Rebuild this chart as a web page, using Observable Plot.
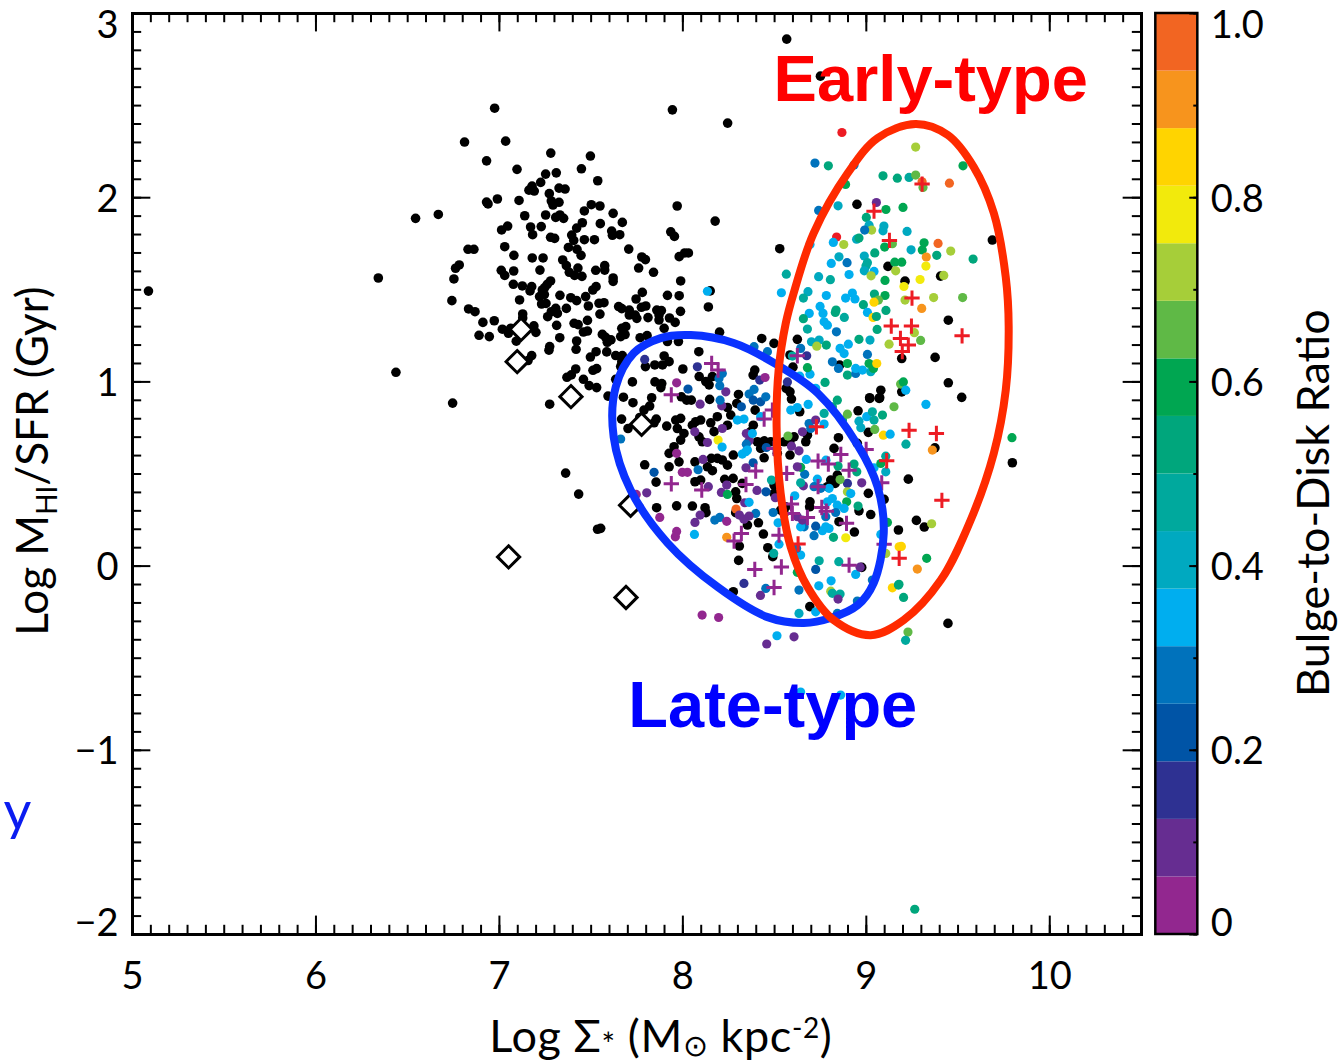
<!DOCTYPE html>
<html><head><meta charset="utf-8">
<script src="https://cdn.jsdelivr.net/npm/d3@7"></script>
<script src="https://cdn.jsdelivr.net/npm/@observablehq/plot@0.6"></script>
<style>html,body{margin:0;padding:0;background:#fff}svg{display:block}</style>
</head><body><div id="chart"></div>
<script>
const blackPoints = [[5.087,1.493],[6.34,1.564],[6.436,1.052],[6.745,.885],[8.566,2.861],[8.75,2.66],[8.244,2.405],
[6.974,2.486],[7.943,2.477],[6.81,2.302],[7.034,2.307],[6.93,2.2],[7.28,2.242],[7.496,2.226],[7.096,2.154],[7.447,2.157],[7.252,2.128],[7.31,2.135],[7.225,2.083],[7.536,2.092],[7.178,2.063],[7.161,2.041],[7.19,2.036],[7.325,2.052],[7.358,2.047],[7.272,2.022],[6.543,1.888],[6.667,1.909],[6.93,1.976],[6.938,1.966],[6.989,1.993],[7.107,1.985],[7.283,1.982],[7.292,1.96],[7.325,1.975],[7.969,1.955],[7.501,1.962],[7.548,1.955],[7.463,1.928],[7.138,1.902],[7.252,1.906],[7.307,1.893],[7.33,1.906],[7.35,1.888],[7.62,1.915],[7.67,1.866],[8.176,1.873],[7.55,1.859],[7.452,1.864],[7.421,1.835],[7.045,1.846],[7.012,1.825],[7.17,1.841],[7.228,1.843],[7.181,1.799],[7.612,1.819],[7.616,1.796],[7.656,1.799],[7.934,1.815],[7.954,1.79],[7.394,1.797],[7.405,1.768],[7.279,1.785],[7.301,1.779],[7.463,1.772],[7.518,1.772],[7.029,1.734],[7.376,1.73],[7.423,1.72],[7.445,1.687],[6.829,1.72],[6.861,1.72],[7.705,1.721],[7.079,1.687],[7.179,1.673],[7.238,1.673],[7.345,1.662],[7.365,1.631],[7.381,1.595],[7.428,1.618],[7.41,1.578],[7.45,1.573],[7.776,1.678],[7.796,1.664],[8.03,1.7],[8.01,1.7],[7.98,1.68],[6.781,1.635],[6.761,1.617],[6.752,1.559],[7.01,1.606],[7.029,1.578],[7.078,1.602],[7.221,1.607],[7.525,1.606],[7.574,1.631],[7.574,1.607],[7.759,1.618],[7.84,1.595],[7.62,1.564],[7.62,1.546],[7.988,1.548],[7.076,1.53],[7.125,1.521],[7.176,1.517],[7.279,1.548],[7.261,1.53],[7.247,1.512],[7.234,1.499],[7.167,1.494],[7.527,1.517],[7.509,1.499],[8.149,1.494],[7.779,1.486],[7.745,1.45],[7.916,1.47],[7.98,1.468],[6.741,1.441],[7.11,1.445],[7.33,1.47],[7.389,1.457],[7.421,1.441],[7.47,1.463],[7.219,1.463],[7.245,1.474],[7.23,1.423],[7.254,1.426],[7.543,1.427],[7.57,1.43],[7.485,1.412],[7.65,1.409],[7.667,1.398],[7.708,1.39],[7.708,1.363],[7.74,1.363],[7.749,1.345],[7.774,1.405],[7.798,1.412],[7.858,1.39],[7.883,1.387],[7.87,1.363],[7.87,1.336],[7.987,1.383],[8.139,1.407],[6.832,1.396],[6.867,1.381],[7.307,1.399],[7.283,1.381],[7.316,1.372],[7.263,1.354],[7.365,1.399],[7.548,1.368],[7.127,1.369],[7.127,1.347],[7.81,1.349],[7.927,1.347],[7.958,1.323],[6.91,1.323],[6.972,1.332],[7.48,1.334],[7.312,1.307],[7.407,1.318],[7.429,1.311],[7.898,1.291],[7.689,1.3],[7.667,1.291],[7.188,1.304],[7.199,1.269],[7.016,1.286],[7.061,1.291],[7.049,1.264],[7.48,1.276],[7.458,1.271],[7.561,1.258],[7.579,1.242],[7.608,1.228],[7.588,1.215],[7.685,1.257],[7.661,1.246],[6.889,1.253],[6.945,1.246],[7.329,1.24],[7.767,1.24],[7.805,1.251],[8.2,1.27],[7.092,1.221],[7.421,1.222],[7.418,1.177],[7.916,1.219],[7.976,1.219],[7.274,1.192],[7.27,1.172],[7.527,1.164],[7.496,1.135],[7.585,1.163],[7.176,1.143],[7.156,1.116],[8.087,1.164],[7.634,1.143],[7.67,1.143],[7.667,1.11],[7.661,1.083],[7.898,1.141],[7.925,1.11],[7.889,1.092],[7.847,1.092],[7.796,1.083],[7.416,1.07],[7.392,1.038],[7.368,1.025],[7.53,1.072],[7.51,1.063],[8,1.07],[8.089,1.029],[8.125,1.002],[8.143,.984],[8.161,1.029],[7.458,1.014],[7.489,.98],[7.53,.969],[7.634,1.014],[7.725,1],[7.848,1],[7.885,.991],[7.88,.969],
[7.274,.879],[7.361,.505],[7.432,.391],[7.535,.2],
[7.592,.923],[7.676,.917],[7.728,.887],[7.83,.914],[7.819,.869],[7.788,.847],[7.765,.807],[7.666,.798],[7.701,.747],[7.855,.798],[7.843,.778],[7.912,.76],[7.992,.919],[8.021,.901],[8.046,.901],[8.146,.905],[8.303,.932],[8.294,.883],[8.243,.861],[8.261,.82],[8.394,.847],[8.392,1.064],[8.383,1.037],[8.43,1.236],[8.497,1.209],[8.584,.946],[8.592,.907],[8.563,.965],[8.637,.838],[8.6,1.08],[8.188,.811],[8.152,.778],[8.097,.793],[8.052,.765],[8.07,.784],[7.988,.802],[7.961,.793],[7.97,.747],[8.243,.765],[8.17,.73],[8.006,.72],[7.988,.684],[7.952,.648],[7.925,.612],[8.088,.702],[8.106,.675],[8.384,.765],[8.37,.73],[8.406,.675],[8.443,.68],[8.424,.639],[8.479,.675],[8.552,.675],[8.583,.675],[8.606,.702],[8.67,.675],[8.679,.711],[8.443,.588],[8.275,.603],[8.584,.603],[8.515,.612],[8.155,.585],[8.188,.585],[8.215,.576],[8.243,.548],[8.066,.566],[7.979,.566],[7.925,.539],[7.792,.55],[8.134,.539],[8.161,.518],[7.854,.456],[8.066,.458],[8.097,.467],[8.228,.471],[8.274,.476],[8.288,.403],[8.294,.367],[8.324,.449],[8.497,.44],[8.497,.395],[8.693,.349],[8.691,.322],[8.56,.322],[8.533,.304],[8.552,.286],[7.857,.317],[7.966,.327],[8.052,.326],[8.121,.317],[8.126,.29],[8.288,.29],[8.352,.223],[8.412,.235],[8.439,.174],[8.463,.1],[8.49,.051],[8.308,.109],[8.304,.031],[8.275,-.139],[8.935,.185],[8.851,.241],[9.024,.28],[9.097,.362],[8.96,.3],[9.011,.395],[8.842,.494],[8.806,.467],[8.788,.431],[8.83,.449],[8.824,.639],[8.848,.697],[8.955,.843],[9.019,.91],[9.07,.91],[9.079,.955],[9.011,.726],[8.951,.666],[9.175,.196],[8.975,-.007],[8.692,-.22],[7.552,.205],
[8.528,1.723],[8.949,1.964],[9.118,1.627],[9.211,1.547],[9.405,1.574],[9.687,1.77],[9.447,1.335],[9.375,1.133],[9.193,1.127],[9.447,.995],[8.624,1.231],[8.584,1.146],[8.855,1.091],
[9.52,.916],[9.018,.914],[9.073,.914],[9.193,.946],[9.374,.642],[9.796,.561],[9.229,.472],[9.273,.248],[9.316,.212],[9.445,-.311]];

const colorPoints = [[8.134,1.492,.34],
[7.792,1.122,.16],[8.079,1.082,.16],[7.966,.995,.03],[8.028,.961,.2],[8.094,.879,.09],[8.065,.729,.09],[8.134,.671,.09],[7.966,.612,.03],[8.11,.579,.09],[7.997,.509,.05],[8.025,.509,.05],[8.083,.523,.28],[7.843,.509,.22],[7.803,.398,.09],[7.746,.389,.03],[7.874,.264,.03],[8.094,.277,.09],[8.066,.237,.09],[7.966,.188,.03],[7.959,.159,.03],[8.063,.172,.37],[8.139,.431,.09],[8.239,.44,.07],[8.21,.4,.09],[8.243,.389,.59],[8.174,.25,.28],[8.201,.264,.28],[8.239,.243,.05],[8.29,.31,.95],[8.239,.156,.92],[7.661,.69,.28],[8.192,.684,.75],[8.214,.646,.34],[8.215,.747,.09],[8.234,.946,.09],[8.212,.87,.09],[8.203,.901,.28],[8.201,.979,.28],[8.197,1.019,.28],[8.215,1.046,.3],[8.346,.72,.09],[8.361,.68,.09],[8.379,.72,.34],[8.346,.662,.3],[8.297,.793,.32],[8.333,.798,.32],[8.319,.865,.22],[8.361,.934,.25],[8.384,.901,.22],[8.424,.892,.2],[8.452,.919,.28],[8.388,.959,.28],[8.419,1.01,.16],[8.448,1.024,.03],[8.461,1.164,.28],[8.388,1.191,.3],[8.424,.811,.34],[8.343,.621,.32],[8.324,.608,.34],[8.352,.63,.32],[8.455,.644,.22],[8.383,.561,.22],[8.344,.534,.09],[8.404,.411,.09],[8.453,.403,.22],[8.483,.467,.44],[8.504,.371,.09],[8.337,.344,.09],[8.361,.346,.37],[8.397,.286,.3],[8.492,.291,.25],[8.308,.277,.12],[8.361,.272,.09],[8.333,.255,.09],[8.519,.235,.36],[8.524,.119,.36],[8.495,.069,.47],[8.642,.06,.36],[8.62,.096,.28],[8.333,-.094,.16],[8.452,-.121,.28],[8.423,-.159,.07],[8.105,-.266,.05],[8.195,-.279,.05],[8.457,-.423,.09],[8.513,-.378,.36],[8.606,-.384,.12],[8.633,-.257,.41],[8.633,-.13,.25],[8.724,-.018,.22],[8.741,-.107,.34],[8.808,-.08,.36],[8.806,-.136,.72],[8.815,-.148,.47],[8.857,-.152,.44],[8.846,-.179,.09],[8.743,.029,.47],[8.85,.024,.44],[8.942,-.045,.36],[8.966,-.006,.09],[8.624,-.034,.6],[8.724,-.248,.36],[8.842,-.257,.3],[8.951,-.19,.3],[9.033,-.076,.3],[9.142,-.118,.84],[9.175,-.103,.55],[8.821,.156,.55],[8.888,.154,.75],[8.715,.165,.3],[8.761,.192,.36],[8.797,.204,.36],[8.779,.213,.34],[8.724,.217,.22],[8.661,.213,.3],[8.642,.213,.34],[8.624,.268,.09],[8.652,.25,.12],[8.61,.382,.36],[8.657,.436,.09],[8.642,.452,.47],[8.664,.498,.3],[8.642,.536,.59],[8.673,.579,.34],[8.624,.539,.09],[8.633,.626,.09],[8.592,.651,.09],[8.573,.706,.68],[8.652,.729,.09],[8.688,.774,.3],[8.724,.793,.09],[8.697,.747,.28],[8.77,.771,.34],[8.624,.861,.36],[8.588,.847,.34],[8.683,.878,.32],[8.724,.965,.36],[8.775,.997,.5],[8.693,1.042,.32],[8.679,1.077,.6],[8.637,1.031,.36],[8.57,1,.16],[8.675,1.142,.16],[8.642,1.182,.3],[8.597,1.14,.47],[8.679,1.287,.47],[8.701,1.218,.4],[8.743,1.227,.42],[8.73,1.194,.7],[8.782,1.2,.55],[8.77,1.326,.36],[8.788,1.308,.36],[8.837,1.272,.28],[8.96,1.231,.53],[9.02,1.227,.42],[9.059,1.285,.55],[9.124,1.205,.72],[8.879,1.154,.34],[8.857,1.182,.36],[8.902,1.205,.36],[9.006,1.149,.3],[8.815,1.109,.28],[8.848,1.073,.3],[8.897,1.1,.62],[8.897,1.037,.55],[8.942,1.046,.3],[8.942,1.073,.34],[8.979,1.064,.36],[9.024,1.055,.4],[9.015,1.1,.6],[9.039,1.073,.6],[9.057,1.1,.84],[8.842,.901,.5],[8.815,.865,.55],[8.87,.793,.5],[8.897,.825,.64],[8.77,.829,.47],[8.96,.787,.42],[9.002,.811,.36],[9.033,.838,.44],[9.042,.793,.44],[9.088,.82,.53],[8.97,.751,.4],[9.046,.742,.66],[9.093,.711,.84],[9.13,.716,.36],[9.151,.865,.64],[8.78,.575,.32],[8.846,.543,.55],[8.933,.554,.55],[8.948,.512,.55],[8.897,.449,.16],[8.975,.452,.09],[9.042,.534,.36],[9.106,.512,.42],[9.079,.557,.58],[9.106,.597,.47],[8.857,.47,.64],[8.897,.403,.7],[8.893,.349,.6],[8.955,.326,.53],[8.915,.394,.36],[8.733,.472,.34],[8.797,.422,.34],[8.752,.422,.3],[8.715,.431,.28],[8.815,.367,.34],[8.788,.349,.34],[8.842,.331,.34],[8.879,.313,.34],[8.833,.291,.3],[8.779,.268,.28],[9.115,.237,.6],[9.079,.172,.36],[9.106,.069,.72],[9.179,.105,.82],
[8.867,2.354,1.05],[9.269,2.275,.7],[8.72,2.188,.28],[8.793,2.173,.53],[9.527,2.173,.59],[8.933,2.177,.3],[8.887,2.072,.6],[9.091,2.119,.53],[9.169,2.106,.55],[9.233,2.11,.45],[9.269,2.123,.66],[9.304,2.086,.97],[9.309,2.056,.66],[9.453,2.079,.95],[8.74,1.931,.3],[8.846,1.956,.4],[9.055,1.974,.09],[9.107,1.936,.6],[9.2,1.947,.62],[9,1.893,.53],[9.015,1.851,.42],[9.029,1.824,.72],[8.991,1.824,.3],[9.096,1.846,.42],[9.091,1.82,.42],[9.222,1.817,.42],[8.838,1.786,1.05],[8.82,1.757,.34],[8.877,1.746,.72],[8.947,1.775,.42],[8.96,1.781,.55],[8.693,1.746,.36],[9.142,1.75,.66],[9.1,1.732,.58],[9.315,1.755,.6],[9.305,1.716,.58],[9.391,1.752,.97],[9.244,1.717,.42],[9.46,1.71,.7],[9.384,1.687,.55],[9.582,1.667,.53],[9.046,1.7,.55],[8.989,1.683,.38],[8.851,1.679,.42],[9.327,1.678,.92],[9.006,1.647,.44],[8.998,1.629,.44],[8.895,1.647,.26],[8.809,1.643,.36],[9.155,1.65,.6],[9.193,1.65,.58],[9.325,1.629,.8],[9.16,1.603,.7],[8.564,1.585,.45],[8.906,1.583,.34],[8.989,1.603,.42],[9.042,1.6,.36],[9.026,1.576,.7],[8.74,1.571,.42],[8.804,1.555,.46],[9.102,1.551,.58],[9.293,1.556,.76],[9.422,1.578,.7],[9.205,1.518,.76],[8.537,1.484,.34],[8.682,1.49,.42],[8.657,1.455,.44],[8.782,1.469,.32],[8.924,1.482,.34],[8.887,1.455,.34],[8.938,1.45,.36],[9.044,1.477,.5],[9.102,1.469,.58],[9.066,1.444,.64],[9.042,1.433,.84],[8.984,1.419,.56],[9.211,1.444,.72],[9.367,1.458,.73],[9.525,1.458,.68],[9.302,1.399,.92],[8.748,1.41,.32],[8.764,1.372,.34],[8.689,1.372,.34],[8.835,1.39,.53],[8.831,1.377,.5],[9.006,1.377,.34],[9.107,1.388,.55],[9.037,1.35,.84],[9.055,1.355,.5],[8.88,1.35,.44],[8.657,1.343,.53],[9.262,1.267,.7],[9.296,1.225,.65],[9.187,.988,.68],[9.202,1,.6],[9.215,.955,.36],
[9.325,.878,.34],[9.216,.662,.47],[9.36,.63,.92],[9.794,.697,.6],[9.356,.23,.72],[9.191,.107,.84],[9.329,.042,.6],[9.278,-.016,.92],[9.178,-.099,.5],[9.203,-.17,.53],[9.227,-.358,.64],[9.214,-.403,.47],[9.264,-1.863,.53],[8.642,-.684,.34],[8.86,-.7,.36]];

const purplePluses = [[8.157,1.1],[8.192,1.064],[7.937,.93],[8.624,1.142],[8.443,.798],[8.488,.847],[8.497,.639],[8.397,.516],[8.566,.503],[8.344,.443],[8.103,.413],[7.937,.447],[8.737,.57],[8.793,.554],[8.861,.606],[8.906,.521],[8.999,.633],[8.737,.431],[9.084,.452],[8.592,.337],[8.597,.286],[8.679,.264],[8.757,.318],[8.782,.298],[8.892,.232],[8.524,.168],[8.319,.177],[8.279,.136],[8.392,-.018],[8.537,-.005],[8.497,-.116],[8.906,.005],[9.097,.119]];
const redPluses = [[8.728,.756],[8.628,.12],[9.111,.572],[9.179,.042],[9.304,2.074],[9.042,1.927],[9.126,1.768],[9.249,1.455],[9.136,1.303],[9.246,1.303],[9.186,1.236],[9.229,1.2],[9.196,1.165],[9.522,1.25],[9.233,.737],[9.382,.72],[9.412,.357]];
const diamonds = [[7.118,1.285],[7.097,1.11],[7.39,.92],[7.775,.77],[7.715,.33],[7.05,.05],[7.69,-.17]];

const blueOutline = [[8.043,1.254],[8.277,1.211],[8.517,1.091],[8.735,.939],[8.953,.657],[9.062,.429],[9.095,.179],[9.04,-.092],[8.953,-.212],[8.806,-.282],[8.659,-.309],[8.462,-.277],[8.19,-.114],[7.917,.125],[7.715,.413],[7.623,.7],[7.634,.972],[7.732,1.156],[7.879,1.238]];
const redOutline = [[9.269,2.4],[9.444,2.34],[9.586,2.166],[9.695,1.916],[9.76,1.569],[9.776,1.298],[9.76,.955],[9.695,.613],[9.569,.25],[9.406,-.076],[9.204,-.293],[9.024,-.375],[8.822,-.293],[8.68,-.114],[8.588,.103],[8.533,.396],[8.511,.755],[8.522,1.064],[8.561,1.319],[8.604,1.482],[8.713,1.808],[8.899,2.134],[9.062,2.324]];

const bandColors = ["#92278f","#662d91","#2e3192","#0054a6","#0072bc","#00aeef","#00a9c0","#00a99d","#00a67c","#00a651","#5fb946","#a6ce39","#f2ea0c","#ffd400","#f7941d","#f26522","#ed1c24"];
const bandEdges = d3.range(17).map(i => i / 16);
const xTicks = [5,6,7,8,9,10];
const yTicks = [3,2,1,0,-1,-2];
const barTicks = [1,.8,.6,.4,.2,0];
const xMinor = d3.range(51, 105).map(i => i / 10).concat(5, 10.5);
const yMinor = d3.range(-20, 31).map(i => i / 10);
const barMinor = d3.range(0, 11).map(i => i / 10);
const xLabelParts = [["Log Σ",45,0],["*",32,4],[" (M",45,0],["⊙",30,4],[" kpc",45,0],["-2",28,-14],[")",45,0]];
const yLabelParts = [["Log M",44,0],["HI",28,9],["/SFR (Gyr)",44,0]];
const font = "Lato";

const barL = 10.578, barR = 10.807;
const y1 = d => -2 + 5 * d;  // colour-bar ratio on the shared y position
const yTickPos = d => d === 3 ? 2.945 : d === -2 ? -1.93 : d;
const barPos = d => d === 1 ? 2.945 : d === 0 ? -1.93 : y1(d);
const labelStyle = {fontFamily: font, fontSize: 38, fill: "#000"};
const titleStyle = {fontFamily: font, fontSize: 44, fill: "#000"};

const plot = Plot.plot({
  width: 1344, height: 1064,
  marginLeft: 132, marginRight: 203, marginTop: 13, marginBottom: 130,
  style: {background: "#fff", fontFamily: font},
  x: {domain: [5, 10.5], axis: null},
  y: {domain: [-2, 3], axis: null},
  color: {type: "threshold", domain: bandEdges.slice(1), range: bandColors},
  marks: [
    Plot.dot(blackPoints, {x: d => d[0], y: d => d[1], r: 4.8, fill: "#000"}),
    Plot.dot(colorPoints, {x: d => d[0], y: d => d[1], r: 4.6, fill: d => d[2]}),
    Plot.dot(purplePluses, {x: d => d[0], y: d => d[1], r: 5, symbol: "plus", stroke: "#92278f", strokeWidth: 3}),
    Plot.dot(redPluses, {x: d => d[0], y: d => d[1], r: 5, symbol: "plus", stroke: "#ed1c24", strokeWidth: 3}),
    Plot.dot(diamonds, {x: d => d[0], y: d => d[1], r: 10, symbol: "diamond2", fill: "#fff", stroke: "#000", strokeWidth: 3}),
    Plot.line(blueOutline, {x: d => d[0], y: d => d[1], curve: "catmull-rom-closed", stroke: "#0a32ff", strokeWidth: 8}),
    Plot.line(redOutline, {x: d => d[0], y: d => d[1], curve: "catmull-rom-closed", stroke: "#ff2a00", strokeWidth: 8}),
    // minor and major ticks on all four sides
    Plot.ruleX(xMinor, {y1: -2, y2: -1.95, stroke: "#000", strokeWidth: 2}),
    Plot.ruleX(xMinor, {y1: 3, y2: 2.95, stroke: "#000", strokeWidth: 2}),
    Plot.ruleX(xTicks, {y1: -2, y2: -1.9, stroke: "#000", strokeWidth: 2}),
    Plot.ruleX(xTicks, {y1: 3, y2: 2.9, stroke: "#000", strokeWidth: 2}),
    Plot.ruleY(yMinor, {x1: 5, x2: 5.05, stroke: "#000", strokeWidth: 2}),
    Plot.ruleY(yMinor, {x1: 10.5, x2: 10.45, stroke: "#000", strokeWidth: 2}),
    Plot.ruleY(yTicks, {x1: 5, x2: 5.1, stroke: "#000", strokeWidth: 2}),
    Plot.ruleY(yTicks, {x1: 10.5, x2: 10.4, stroke: "#000", strokeWidth: 2}),
    Plot.frame({stroke: "#000", strokeWidth: 3}),
    // colour bar
    Plot.rect(d3.range(16), {x1: barL, x2: barR, y1: i => y1(bandEdges[i]), y2: i => y1(bandEdges[i + 1]), fill: i => (i + .5) / 16}),
    Plot.rect([0], {x1: barL, x2: barR, y1: -2, y2: 3, stroke: "#000", strokeWidth: 2.5, fill: "none"}),
    Plot.ruleY(barMinor, {y: y1, x1: barR, x2: barR - .022, stroke: "#000", strokeWidth: 2}),
    Plot.ruleY(barTicks, {y: y1, x1: barR, x2: barR - .044, stroke: "#000", strokeWidth: 2}),
    // tick labels
    Plot.text(xTicks, {x: d => d, y: -2.222, dy: 1, text: d => String(d), textAnchor: "middle", ...labelStyle}),
    Plot.text(yTicks, {x: 4.924, y: yTickPos, dy: 2, text: d => d < 0 ? "−" + (-d) : String(d), textAnchor: "end", ...labelStyle}),
    Plot.text(barTicks, {x: 10.878, y: barPos, dy: 2, text: d => d === 0 ? "0" : d.toFixed(1), textAnchor: "start", ...labelStyle}),
    // axis titles
    Plot.text([xLabelParts.map(p => p[0]).join("")], {x: 7.88, y: -2.56, text: d => d, textAnchor: "middle", ...titleStyle}),
    Plot.text([yLabelParts.map(p => p[0]).join("")], {x: 4.46, y: .57, text: d => d, rotate: -90, textAnchor: "middle", ...titleStyle}),
    Plot.text(["Bulge-to-Disk Ratio"], {x: 11.445, y: .342, text: d => d, rotate: -90, textAnchor: "middle", ...titleStyle, fontSize: 45}),
    // annotations
    Plot.text(["Early-type"], {x: 9.351, y: 2.65, dy: 2, text: d => d, fontFamily: "Liberation Sans", fontWeight: "bold", fontSize: 65, fill: "#ff0000", textAnchor: "middle"}),
    Plot.text(["Late-type"], {x: 8.49, y: -.76, text: d => d, fontFamily: "Liberation Sans", fontWeight: "bold", fontSize: 65, fill: "#0000ff", textAnchor: "middle"}),
    Plot.text(["y"], {x: 4.373, y: -1.34, text: d => d, fontFamily: font, fontSize: 54, fill: "#0a1cf0", textAnchor: "middle"})
  ]
});

// Sub- and superscripts in the two composite axis titles become tspans.
function setParts(parts, spacing) {
  const whole = parts.map(p => p[0]).join("");
  d3.select(plot).selectAll("text").filter(function () { return this.textContent === whole; }).each(function () {
    const t = d3.select(this); t.text(null).attr("letter-spacing", spacing);
    let prev = 0;
    parts.forEach(([s, size, dy]) => {
      t.append("tspan").attr("font-size", size).attr("dy", dy - prev).text(s);
      prev = dy;
    });
  });
}
setParts(xLabelParts, 0.6);
setParts(yLabelParts, 0);
document.getElementById("chart").appendChild(plot);
</script>
</body></html>
